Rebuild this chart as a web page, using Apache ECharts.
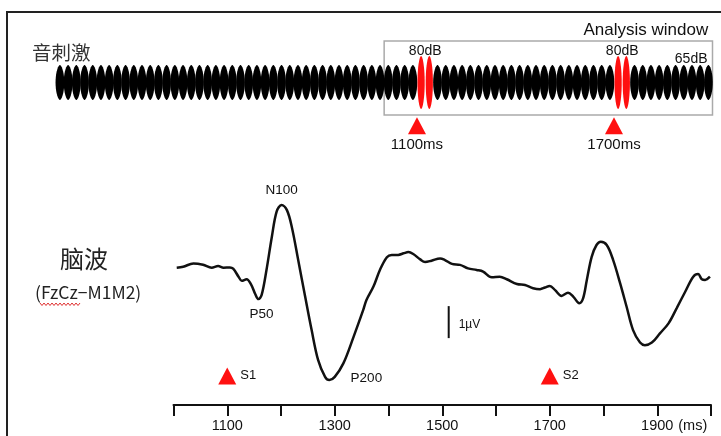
<!DOCTYPE html>
<html><head><meta charset="utf-8">
<script src="https://cdn.jsdelivr.net/npm/echarts@6/dist/echarts.min.js"></script>
<style>html,body{margin:0;padding:0;background:#fff}#c{width:721px;height:436px}</style>
</head><body><div id="c"></div>
<script>
// ---- stimulus (40 Hz AM, 25 ms lobes) ----
const stimOnsetsMs = [
  0,25,50,75,100,125,150,175,200,225,
  250,275,300,325,350,375,400,425,450,475,
  500,525,550,575,600,625,650,675,700,725,
  750,775,800,825,850,875,900,925,950,975,
  1000,1025,1050,1075,1100,1125,1150,1175,1200,1225,
  1250,1275,1300,1325,1350,1375,1400,1425,1450,1475,
  1500,1525,1550,1575,1600,1625,1650,1675,1700,1725,
  1750,1775,1800,1825,1850,1875,1900,1925,1950,1975];
const stimLevelsDb = [
  65,65,65,65,65,65,65,65,65,65,
  65,65,65,65,65,65,65,65,65,65,
  65,65,65,65,65,65,65,65,65,65,
  65,65,65,65,65,65,65,65,65,65,
  65,65,65,65,80,80,65,65,65,65,
  65,65,65,65,65,65,65,65,65,65,
  65,65,65,65,65,65,65,65,80,80,
  65,65,65,65,65,65,65,65,65,65];
const onsetsMs = [1100, 1700];
const onsetLabelsTop = ['1100ms', '1700ms'];
const onsetLabelsBottom = ['S1', 'S2'];
const analysisWindowMs = [1000, 2000];
const levelLabelMs = [1125, 1725, 1935];
const levelLabelText = ['80dB', '80dB', '65dB'];

// ---- EEG (FzCz-M1M2), µV, negative up ----
const eegTimesMs = [
  1006,1018,1037,1055,1071,1083,1093,1105,1111,1121,
  1127,1136,1144,1152,1158,1164,1173,1183,1192,1201,
  1211,1220,1232,1245,1257,1269,1282,1290,1300,1316,
  1335,1353,1359,1372,1384,1397,1406,1418,1428,1437,
  1446,1459,1468,1480,1496,1505,1518,1533,1548,1564,
  1576,1592,1607,1620,1639,1654,1669,1682,1691,1700,
  1710,1722,1734,1744,1755,1762,1769,1778,1787,1795,
  1806,1818,1831,1843,1855,1868,1877,1890,1905,1921,
  1936,1952,1967,1976,1983,1989,1998];
const eegValuesUv = [
  -0.04,-0.07,-0.17,-0.13,-0.04,-0.09,-0.04,-0.05,-0.01,0.24,
  0.37,0.32,0.47,0.78,0.94,0.81,0.03,-1.01,-1.80,-2.00,
  -1.84,-1.32,-0.28,0.87,1.91,2.84,3.37,3.47,3.37,2.95,
  2.12,1.28,0.97,0.55,0.03,-0.37,-0.44,-0.44,-0.49,-0.53,
  -0.47,-0.30,-0.22,-0.26,-0.33,-0.28,-0.16,-0.13,-0.02,0.03,
  0.08,0.26,0.24,0.32,0.47,0.50,0.60,0.63,0.58,0.53,
  0.66,0.84,0.74,0.87,1.07,0.92,0.34,-0.38,-0.75,-0.85,
  -0.75,-0.28,0.45,1.18,1.91,2.30,2.38,2.30,2.01,1.70,
  1.23,0.71,0.24,0.16,0.32,0.34,0.24];
const peakNames = ['P50', 'N100', 'P200'];
const peakTimesMs = [1158, 1201, 1290];
const peakValuesUv = [0.94, -2.00, 3.47];
const xTickLabels = [1100, 1300, 1500, 1700, 1900];
const scaleBarMs = 1512;
const scaleBarUv = [1.16, 2.16];

const FONT = '"Liberation Sans", Arial, sans-serif';
const CJK = '"Noto Sans CJK SC", "Noto Sans CJK JP", sans-serif';
const RED = '#ff1010';
const TXT = '#111';

const chart = echarts.init(document.getElementById('c'));
const peakOffsets = {P50: [3, 15], N100: [0, -15], P200: [37, -2]};

chart.setOption({
  animation: false,
  backgroundColor: '#fff',
  grid: [
    {left: 55.8, width: 656.7, top: 56, height: 53},
    {left: 173.5, width: 537.5, top: 181, height: 224}
  ],
  xAxis: [
    {gridIndex: 0, type: 'category', data: stimOnsetsMs.map(String), boundaryGap: true, show: false},
    {gridIndex: 0, type: 'value', min: 0, max: 2000, show: false},
    {gridIndex: 1, type: 'value', min: 1000, max: 2000, interval: 100, position: 'bottom',
      axisLine: {show: true, onZero: false, lineStyle: {color: '#111', width: 2}},
      axisTick: {show: true, length: 11, lineStyle: {color: '#111', width: 2}},
      splitLine: {show: false},
      axisLabel: {margin: 13, fontSize: 14.5, color: TXT, fontFamily: FONT,
        formatter: v => xTickLabels.includes(v) ? String(v) : ''}}
  ],
  yAxis: [
    {gridIndex: 0, type: 'value', min: -44, max: 44, show: false},
    {gridIndex: 1, type: 'value', min: -2.75, max: 4.25, inverse: true, show: false}
  ],
  series: [
    {
      name: 'stimulus', type: 'custom', xAxisIndex: 0, yAxisIndex: 0, clip: false,
      data: stimLevelsDb.map((db, i) => [i, db]),
      renderItem(params, api) {
        const i = api.value(0), db = api.value(1);
        const half = db - 36;
        const top = api.coord([i, half]);
        const bot = api.coord([i, -half]);
        const w = api.size([1, 0])[0];
        const cx = top[0], cy = (top[1] + bot[1]) / 2;
        const loud = db >= 80;
        const rx = loud ? w * 0.44 : w * 0.53, ry = (bot[1] - top[1]) / 2;
        const p = loud ? 1.1 : 1.2;
        const pts = [];
        for (let k = 0; k < 72; k++) {
          const a = k / 72 * Math.PI * 2, c = Math.cos(a), s = Math.sin(a);
          pts.push([cx + rx * Math.sign(c) * Math.pow(Math.abs(c), p), cy + ry * s]);
        }
        return {type: 'polygon', shape: {points: pts}, style: {fill: loud ? RED : '#000'}};
      }
    },
    {
      name: 'onsetsTop', type: 'scatter', xAxisIndex: 1, yAxisIndex: 0, clip: false,
      data: onsetsMs.map((t, i) => ({value: [t, -72], name: onsetLabelsTop[i]})),
      symbol: 'triangle', symbolSize: [18, 17], itemStyle: {color: RED, opacity: 1},
      label: {show: true, position: 'bottom', distance: 3, formatter: '{b}', fontSize: 15, color: TXT, fontFamily: FONT, textBorderWidth: 0},
      markArea: {
        silent: true,
        itemStyle: {color: 'rgba(0,0,0,0)', borderColor: '#aaa', borderWidth: 1.5},
        label: {show: true, position: ['100%', 0], align: 'right', verticalAlign: 'bottom', offset: [-5, -1],
          color: TXT, fontSize: 17, fontFamily: FONT},
        data: [[{name: 'Analysis window', xAxis: analysisWindowMs[0], y: 41}, {xAxis: analysisWindowMs[1], y: 115}]]
      }
    },
    {
      name: 'levels', type: 'scatter', xAxisIndex: 1, yAxisIndex: 0, clip: false, symbolSize: 0, silent: true,
      data: levelLabelMs.map((t, i) => ({value: [t, i < 2 ? 51.5 : 38], name: levelLabelText[i]})),
      itemStyle: {opacity: 1},
      label: {show: true, position: 'inside', formatter: '{b}', fontSize: 14, color: TXT, fontFamily: FONT, textBorderWidth: 0}
    },
    {
      name: 'EEG', type: 'line', xAxisIndex: 2, yAxisIndex: 1,
      data: eegTimesMs.map((t, i) => [t, eegValuesUv[i]]),
      smooth: 0.35, showSymbol: false, lineStyle: {color: '#111', width: 2.5}, z: 3,
      markPoint: {
        silent: true, symbol: 'circle', symbolSize: 0,
        data: peakNames.map((n, i) => ({name: n, coord: [peakTimesMs[i], peakValuesUv[i]],
          label: {offset: peakOffsets[n]}})),
        label: {show: true, position: 'inside', formatter: '{b}', fontSize: 13.5, color: TXT, fontFamily: FONT, textBorderWidth: 0}
      }
    },
    {
      name: 'onsetsBottom', type: 'scatter', xAxisIndex: 2, yAxisIndex: 1, clip: false,
      data: onsetsMs.map((t, i) => ({value: [t, 3.34], name: onsetLabelsBottom[i]})),
      symbol: 'triangle', symbolSize: [18, 17], itemStyle: {color: RED, opacity: 1},
      label: {show: true, position: 'right', distance: 4, formatter: '{b}', fontSize: 13, color: TXT, fontFamily: FONT, textBorderWidth: 0}
    }
  ]
});

const b1 = chart.convertToPixel({xAxisIndex: 2, yAxisIndex: 1}, [scaleBarMs, scaleBarUv[0]]);
const b2 = chart.convertToPixel({xAxisIndex: 2, yAxisIndex: 1}, [scaleBarMs, scaleBarUv[1]]);
const tick1900 = chart.convertToPixel({xAxisIndex: 2, yAxisIndex: 1}, [1900, 4.25]);
const squiggle = [];
for (let x = 40; x <= 80; x += 2) squiggle.push([x, (x / 2) % 2 === 0 ? 303 : 305.5]);

chart.setOption({
  graphic: [
    {type: 'rect', shape: {x: 7, y: 12, width: 800, height: 500}, style: {fill: 'none', stroke: '#222', lineWidth: 2}, silent: true},
    {type: 'text', left: 32, top: 43, style: {text: '音刺激', font: '19.5px ' + CJK, fill: '#333'}},
    {type: 'text', left: 60, top: 247, style: {text: '脑波', font: '24px ' + CJK, fill: '#222'}},
    {type: 'text', left: 35, top: 284, style: {text: '(FzCz\u2212M1M2)', font: '17.5px ' + CJK, fill: '#222'}},
    {type: 'polyline', shape: {points: squiggle}, style: {stroke: '#e03030', lineWidth: 1, fill: 'none'}, silent: true},
    {type: 'line', shape: {x1: b1[0], y1: b1[1], x2: b2[0], y2: b2[1]}, style: {stroke: '#111', lineWidth: 2}},
    {type: 'text', x: b1[0] + 10, y: (b1[1] + b2[1]) / 2 + 3, style: {text: '1\u00b5V', font: '12px ' + FONT, fill: TXT, textVerticalAlign: 'middle'}},
    {type: 'text', x: tick1900[0] + 21, y: tick1900[1] + 21, style: {text: '(ms)', font: '14.5px ' + FONT, fill: TXT, textVerticalAlign: 'middle'}}
  ]
});
</script>
</body></html>
